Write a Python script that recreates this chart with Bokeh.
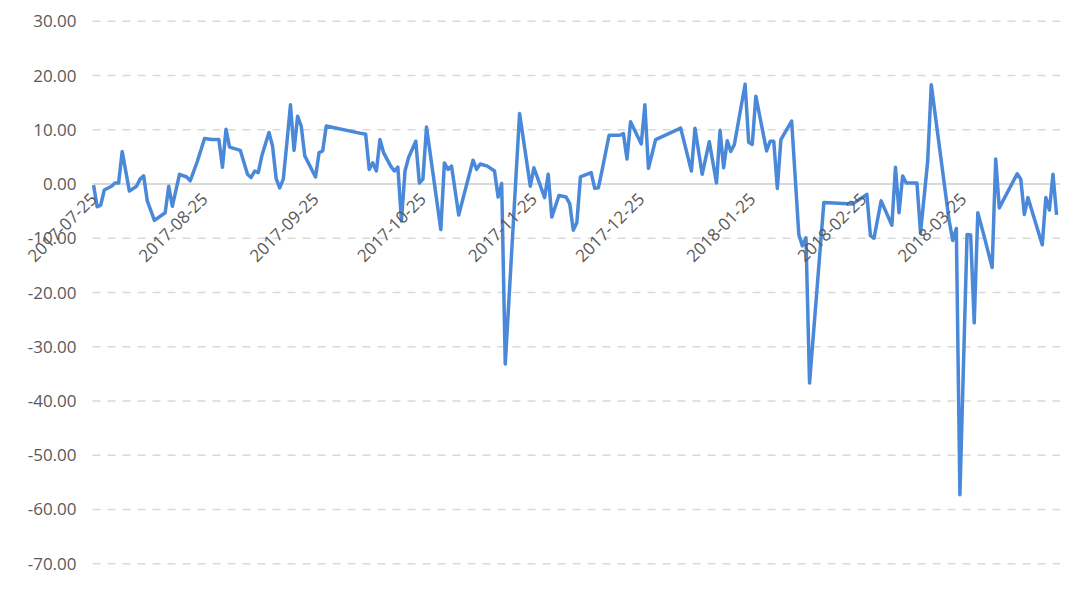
import pandas as pd
from bokeh.plotting import figure
from bokeh.models import (FixedTicker, Range1d, NumeralTickFormatter, ColumnDataSource,
                          LinearAxis)
from bokeh.core.properties import value
from bokeh.embed import file_html
from bokeh.resources import INLINE

dates = [
    "2017-07-25", "2017-07-26", "2017-07-27", "2017-07-28", "2017-07-30", "2017-07-31",
    "2017-08-01", "2017-08-02", "2017-08-04", "2017-08-06", "2017-08-07", "2017-08-08",
    "2017-08-09", "2017-08-11", "2017-08-14", "2017-08-15", "2017-08-16", "2017-08-18",
    "2017-08-20", "2017-08-21", "2017-08-23", "2017-08-25", "2017-08-27", "2017-08-29",
    "2017-08-30", "2017-08-31", "2017-09-01", "2017-09-04", "2017-09-06", "2017-09-07",
    "2017-09-08", "2017-09-09", "2017-09-10", "2017-09-12", "2017-09-13", "2017-09-14",
    "2017-09-15", "2017-09-16", "2017-09-17", "2017-09-18", "2017-09-19", "2017-09-20",
    "2017-09-21", "2017-09-22", "2017-09-25", "2017-09-26", "2017-09-27", "2017-09-28",
    "2017-10-08", "2017-10-09", "2017-10-10", "2017-10-11", "2017-10-12", "2017-10-13",
    "2017-10-14", "2017-10-16", "2017-10-17", "2017-10-18", "2017-10-19", "2017-10-20",
    "2017-10-21", "2017-10-23", "2017-10-24", "2017-10-25", "2017-10-26", "2017-10-30",
    "2017-10-31", "2017-11-01", "2017-11-02", "2017-11-04", "2017-11-08", "2017-11-09",
    "2017-11-10", "2017-11-12", "2017-11-14", "2017-11-15", "2017-11-16", "2017-11-17",
    "2017-11-21", "2017-11-24", "2017-11-25", "2017-11-28", "2017-11-29", "2017-11-30",
    "2017-12-02", "2017-12-04", "2017-12-05", "2017-12-06", "2017-12-07", "2017-12-08",
    "2017-12-11", "2017-12-12", "2017-12-13", "2017-12-14", "2017-12-16", "2017-12-19",
    "2017-12-20", "2017-12-21", "2017-12-22", "2017-12-25", "2017-12-26", "2017-12-27",
    "2017-12-29", "2018-01-05", "2018-01-08", "2018-01-09", "2018-01-11", "2018-01-13",
    "2018-01-15", "2018-01-16", "2018-01-17", "2018-01-18", "2018-01-19", "2018-01-20",
    "2018-01-23", "2018-01-24", "2018-01-25", "2018-01-26", "2018-01-29", "2018-01-30",
    "2018-01-31", "2018-02-01", "2018-02-02", "2018-02-05", "2018-02-07", "2018-02-08",
    "2018-02-09", "2018-02-10", "2018-02-14", "2018-02-22", "2018-02-26", "2018-02-27",
    "2018-02-28", "2018-03-02", "2018-03-05", "2018-03-06", "2018-03-07", "2018-03-08",
    "2018-03-09", "2018-03-12", "2018-03-13", "2018-03-15", "2018-03-16", "2018-03-21",
    "2018-03-22", "2018-03-23", "2018-03-24", "2018-03-26", "2018-03-27", "2018-03-28",
    "2018-03-29", "2018-03-31", "2018-04-02", "2018-04-03", "2018-04-04", "2018-04-09",
    "2018-04-10", "2018-04-11", "2018-04-12", "2018-04-16", "2018-04-17", "2018-04-18",
    "2018-04-19", "2018-04-20",
]

values = [
    -0.2, -4.2, -3.9, -1.1, -0.4, 0.2,
    0.2, 6.0, -1.3, -0.4, 0.9, 1.5,
    -3.1, -6.7, -5.3, -0.4, -4.1, 1.8,
    1.3, 0.6, 4.2, 8.4, 8.2, 8.2,
    3.1, 10.1, 6.8, 6.2, 1.8, 1.2,
    2.4, 2.1, 5.2, 9.5, 7.0, 1.0,
    -0.7, 0.9, 7.6, 14.6, 6.2, 12.5,
    10.7, 5.2, 1.3, 5.8, 6.1, 10.7,
    9.3, 9.2, 2.7, 3.9, 2.4, 8.2,
    5.8, 3.3, 2.4, 3.1, -6.8, 2.4,
    4.9, 7.9, 0.2, 0.9, 10.5, -8.4,
    3.9, 2.7, 3.3, -5.7, 4.4, 2.7,
    3.7, 3.3, 2.4, -2.4, 0.1, -33.2,
    13.0, -0.4, 3.0, -2.5, 1.8, -6.1,
    -2.1, -2.4, -3.6, -8.5, -7.1, 1.3,
    2.1, -0.8, -0.7, 2.4, 9.0, 9.0,
    9.3, 4.6, 11.5, 7.4, 14.6, 2.9,
    8.2, 10.3, 2.4, 10.3, 1.8, 7.8,
    0.2, 9.9, 3.0, 8.0, 6.0, 7.3,
    18.4, 7.7, 7.3, 16.2, 6.1, 7.9,
    7.9, -0.8, 8.2, 11.6, -9.3, -11.4,
    -9.9, -36.7, -3.4, -3.7, -1.9, -9.5,
    -10.0, -3.1, -7.6, 3.1, -5.3, 1.5,
    0.2, 0.2, -9.0, 4.2, 18.3, -6.8,
    -10.4, -8.2, -57.3, -9.3, -9.4, -25.6,
    -5.3, -10.2, -15.4, 4.6, -4.4, 1.9,
    0.9, -5.6, -2.5, -11.2, -2.5, -4.8,
    1.8, -5.7,
]

tick_dates = ["2017-07-25", "2017-08-25", "2017-09-25", "2017-10-25", "2017-11-25",
              "2017-12-25", "2018-01-25", "2018-02-25", "2018-03-25"]
y_ticks = [30, 20, 10, 0, -10, -20, -30, -40, -50, -60, -70]

assert len(dates) == len(values)

x = pd.to_datetime(dates)
base = pd.Timestamp(dates[0])
# plot area of the chart begins just before the first date
area_start = base - pd.Timedelta(hours=7)
x_start = base - pd.Timedelta(days=24.6)
x_end = base + pd.Timedelta(days=270.1)

p = figure(width=1075, height=583, x_axis_type="datetime", y_axis_location=None,
           x_range=Range1d(x_start, x_end), y_range=Range1d(-72, 32),
           output_backend="svg", toolbar_location=None,
           min_border_left=5, min_border_right=15, min_border_top=10, min_border_bottom=9)
p.xaxis.visible = False
p.xgrid.visible = False
p.ygrid.visible = False
p.outline_line_color = None
p.background_fill_color = "white"
p.border_fill_color = "white"

# value axis, fixed at the left edge of the plot area
ya = LinearAxis(fixed_location=area_start.value / 1e6,
                ticker=FixedTicker(ticks=y_ticks),
                formatter=NumeralTickFormatter(format="0.00"))
ya.axis_line_color = None
ya.major_tick_line_color = None
ya.minor_tick_line_color = None
ya.major_tick_out = 0
ya.major_tick_in = 0
ya.major_label_standoff = 16
ya.major_label_text_font = "Open Sans"
ya.major_label_text_font_size = "17px"
ya.major_label_text_color = "#595959"
p.add_layout(ya, "left")

# gridlines across the plot area
grid_y = [t for t in y_ticks if t != 0]
p.segment(x0=[area_start] * len(grid_y), x1=[x_end] * len(grid_y), y0=grid_y, y1=grid_y,
          line_color="#D9D9D9", line_width=1.5, line_dash="8 7")
# horizontal axis line crossing at zero
p.segment(x0=[area_start], x1=[x_end], y0=[0], y1=[0], line_color="#D9D9D9", line_width=2)

p.line(x, values, line_color="#4A89D9", line_width=3.5, line_join="round")

# date labels along the zero axis
lab_src = ColumnDataSource(dict(x=pd.to_datetime(tick_dates),
                                y=[0] * len(tick_dates),
                                text=tick_dates))
p.text(x="x", y="y", text="text", source=lab_src,
       angle=45, angle_units="deg", text_align="right", text_baseline="middle",
       x_offset=0, y_offset=12,
       text_font=value("Open Sans"), text_font_size="17px", text_color="#595959")

open("out.html", "w").write(file_html(p, INLINE))
